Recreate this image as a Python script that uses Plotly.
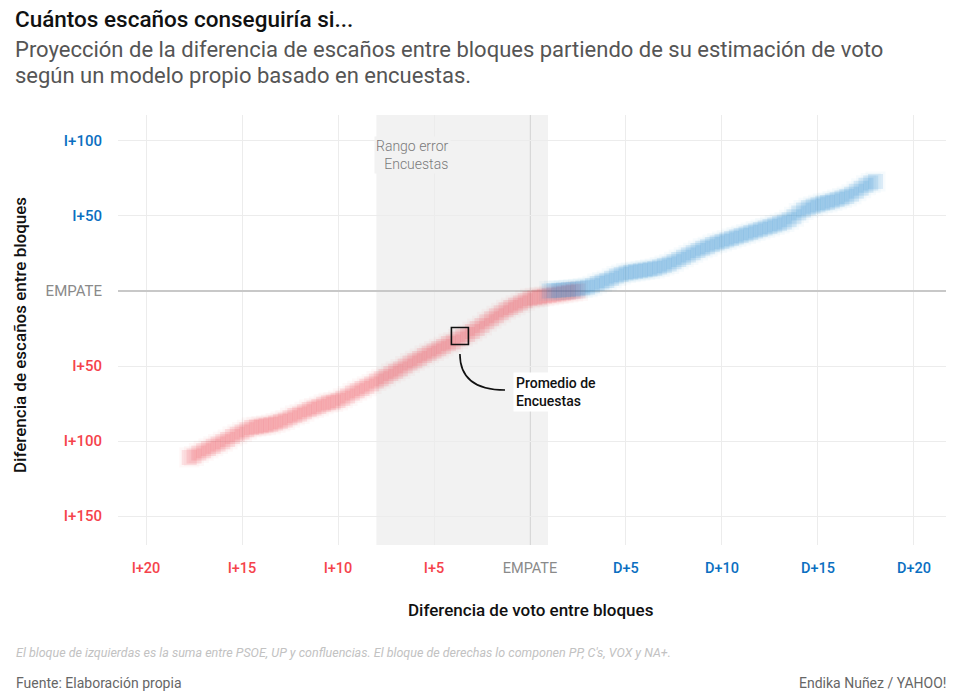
import plotly.graph_objects as go

# ---------------- data ----------------
x_ticks = [-20, -15, -10, -5, 0, 5, 10, 15, 20]
x_ticklabels = ["I+20", "I+15", "I+10", "I+5", "EMPATE", "D+5", "D+10", "D+15", "D+20"]
y_ticks = [100, 50, 0, -50, -100, -150]
y_ticklabels = ["I+100", "I+50", "EMPATE", "I+50", "I+100", "I+150"]

# Left bloc (red) projection: vote difference vs seat difference
izq_x = [-17.75, -17.5, -17.25, -17.0, -16.75, -16.5, -16.25, -16.0, -15.75, -15.5,
         -15.25, -15.0, -14.75, -14.5, -14.25, -14.0, -13.75, -13.5, -13.25, -13.0,
         -12.75, -12.5, -12.25, -12.0, -11.75, -11.5, -11.25, -11.0, -10.75, -10.5,
         -10.25, -10.0, -9.75, -9.5, -9.25, -9.0, -8.75, -8.5, -8.25, -8.0,
         -7.75, -7.5, -7.25, -7.0, -6.75, -6.5, -6.25, -6.0, -5.75, -5.5,
         -5.25, -5.0, -4.75, -4.5, -4.25, -4.0, -3.75, -3.5, -3.25, -3.0,
         -2.75, -2.5, -2.25, -2.0, -1.75, -1.5, -1.25, -1.0, -0.75, -0.5,
         -0.25, 0.0, 0.25, 0.5, 0.75, 1.0, 1.25, 1.5, 1.75, 2.0,
         2.25, 2.5]
izq_y = [-111, -110, -108, -106.5, -105, -103.5, -102, -100.5, -99, -97,
         -95.5, -94, -92.5, -91, -90.5, -90, -89.5, -89, -88, -87,
         -86, -84.5, -83, -82, -80.5, -79, -78, -77, -75.5, -74.5,
         -74, -73, -71.5, -70, -68, -66.5, -65, -63.5, -62, -60,
         -58.5, -57, -55, -53.5, -52, -50, -48, -46.5, -45, -43,
         -41.5, -40, -38.5, -37, -35, -34, -32, -30.5, -29, -27,
         -25, -23, -20.5, -18.5, -16.5, -14.5, -12.5, -11, -9.5, -8,
         -6.5, -5, -4.5, -4, -3.5, -3, -2.5, -2, -1.5, -1,
         -0.5, 0]

# Right bloc (blue) projection
der_x = [1.0, 1.25, 1.5, 1.75, 2.0, 2.25, 2.5, 2.75, 3.0, 3.25,
         3.5, 3.75, 4.0, 4.25, 4.5, 4.75, 5.0, 5.25, 5.5, 5.75,
         6.0, 6.25, 6.5, 6.75, 7.0, 7.25, 7.5, 7.75, 8.0, 8.25,
         8.5, 8.75, 9.0, 9.25, 9.5, 9.75, 10.0, 10.25, 10.5, 10.75,
         11.0, 11.25, 11.5, 11.75, 12.0, 12.25, 12.5, 12.75, 13.0, 13.25,
         13.5, 13.75, 14.0, 14.25, 14.5, 14.75, 15.0, 15.25, 15.5, 15.75,
         16.0, 16.25, 16.5, 16.75, 17.0, 17.25, 17.5, 17.75, 18.0]
der_y = [0, 0.3, 0.5, 0.7, 1, 1.2, 1.5, 2, 2.5, 3.5,
         5, 6, 7, 8.5, 10, 11, 12, 12.5, 13, 13.5,
         14, 14.5, 15, 16, 17, 18, 19.5, 21, 22.5, 24,
         25.5, 27, 28.5, 29.5, 31, 32, 33, 34, 35, 36,
         37, 38, 39, 40, 41, 42, 43, 44, 45, 46,
         47.5, 49.5, 52, 54, 55.5, 56.5, 57.5, 58.5, 59, 60,
         61, 62, 63, 64.5, 66.5, 68.5, 70.5, 72, 73]

# Poll error range and poll average
rango_error = [-8.0, 0.94]
promedio_x = [-3.65]
promedio_y = [-30]

# ---------------- styling ----------------
FONT = "Roboto"
RED = "#f5434b"
BLUE = "#0b6fc1"
GREY = "#8a8a8a"

X_RANGE = [-21.46, 21.67]
Y_RANGE = [-169.3, 117.3]
ML, MR, MT, MB = 118, 14, 115, 152
W, H = 960, 697
PW, PH = W - ML - MR, H - MT - MB


def px(xp):
    return (xp - ML) / PW


def py(yp):
    return (H - MB - yp) / PH


def tick_color(lbl):
    if lbl.startswith("I"):
        return RED
    if lbl.startswith("D"):
        return BLUE
    return GREY


def tick_html(lbl, col):
    weight = 400 if lbl == "EMPATE" else 500
    return f"<span style='color:{col};font-weight:{weight}'>{lbl}</span>"


x_text = [tick_html(t, tick_color(t)) for t in x_ticklabels]
y_cols = [BLUE, BLUE, GREY, RED, RED, RED]
y_text = [tick_html(t, c) for t, c in zip(y_ticklabels, y_cols)]

fig = go.Figure()

red_halo = "rgba(240,60,70,0.035)"
red_core = "rgba(240,60,70,0.12)"
blue_halo = "rgba(30,130,210,0.035)"
blue_core = "rgba(30,130,210,0.13)"

fig.add_trace(go.Scatter(x=izq_x, y=izq_y, mode="markers", hoverinfo="skip",
                         marker=dict(symbol="square", size=20, color=red_halo, line=dict(width=0))))
fig.add_trace(go.Scatter(x=izq_x, y=izq_y, mode="markers", name="Izquierda",
                         marker=dict(symbol="square", size=15, color=red_core, line=dict(width=0))))
fig.add_trace(go.Scatter(x=der_x, y=der_y, mode="markers", hoverinfo="skip",
                         marker=dict(symbol="square", size=20, color=blue_halo, line=dict(width=0))))
fig.add_trace(go.Scatter(x=der_x, y=der_y, mode="markers", name="Derecha",
                         marker=dict(symbol="square", size=15, color=blue_core, line=dict(width=0))))

# poll average marker
fig.add_trace(go.Scatter(x=promedio_x, y=promedio_y, mode="markers", name="Promedio",
                         marker=dict(symbol="square-open", size=17, color="#111",
                                     line=dict(width=1.6, color="#111"))))

# shaded poll error range
fig.add_shape(type="rect", xref="x", yref="paper", x0=rango_error[0], x1=rango_error[1],
              y0=0, y1=1, fillcolor="#f2f2f2", line=dict(width=0), layer="below")
# vertical EMPATE line
fig.add_shape(type="line", xref="x", yref="paper", x0=0, x1=0, y0=0, y1=1,
              line=dict(color="#c4c4c4", width=1.2), layer="below")

# connector curve from poll marker to label
sx, sy = promedio_x[0], promedio_y[0] - 12
ex, ey = promedio_x[0] + 2.35, promedio_y[0] - 36
path = f"M {sx},{sy} C {sx},{sy - 16} {sx + 0.8},{ey} {ex},{ey}"
fig.add_shape(type="path", xref="x", yref="y", path=path,
              line=dict(color="#111", width=1.6))

annotations = [
    dict(text="Promedio de<br>Encuestas", x=promedio_x[0] + 2.76, y=promedio_y[0] - 37,
         xref="x", yref="y", xanchor="left", yanchor="middle", align="left", showarrow=False,
         bgcolor="white", borderpad=2,
         font=dict(family=FONT, size=14, color="#111", weight=500)),
    dict(text="Rango error<br>Encuestas", x=-4.1, y=90.5, xref="x", yref="y",
         xanchor="right", yanchor="middle", align="right", showarrow=False,
         bgcolor="#f2f2f2", font=dict(family=FONT, size=14, color="#7a7a7a", weight=300)),
    # titles
    dict(text="Cuántos escaños conseguiría si...", x=px(13), y=py(19), xref="paper", yref="paper",
         xanchor="left", yanchor="middle", showarrow=False,
         font=dict(family=FONT, size=22.5, color="#111", weight=500)),
    dict(text="Proyección de la diferencia de escaños entre bloques partiendo de su estimación de voto",
         x=px(13), y=py(50), xref="paper", yref="paper", xanchor="left", yanchor="middle",
         showarrow=False, font=dict(family=FONT, size=22, color="#555")),
    dict(text="según un modelo propio basado en encuestas.",
         x=px(13), y=py(75), xref="paper", yref="paper", xanchor="left", yanchor="middle",
         showarrow=False, font=dict(family=FONT, size=22, color="#555")),
    # axis titles
    dict(text="Diferencia de voto entre bloques", x=px(531), y=py(610), xref="paper", yref="paper",
         xanchor="center", yanchor="middle", showarrow=False,
         font=dict(family=FONT, size=17, color="#111", weight=500)),
    dict(text="Diferencia de escaños entre bloques", x=px(20), y=py(335), xref="paper", yref="paper",
         xanchor="center", yanchor="middle", showarrow=False, textangle=-90,
         font=dict(family=FONT, size=17, color="#111", weight=500)),
    # footer
    dict(text="<i>El bloque de izquierdas es la suma entre PSOE, UP y confluencias. "
              "El bloque de derechas lo componen PP, C's, VOX y NA+.</i>",
         x=px(14), y=py(652), xref="paper", yref="paper", xanchor="left", yanchor="middle",
         showarrow=False, font=dict(family=FONT, size=12.5, color="#c2c2c2")),
    dict(text="Fuente: Elaboración propia", x=px(14), y=py(683), xref="paper", yref="paper",
         xanchor="left", yanchor="middle", showarrow=False,
         font=dict(family=FONT, size=14, color="#666")),
    dict(text="Endika Nuñez / YAHOO!", x=px(948), y=py(683), xref="paper", yref="paper",
         xanchor="right", yanchor="middle", showarrow=False,
         font=dict(family=FONT, size=14, color="#666")),
]

fig.update_layout(
    width=W, height=H,
    margin=dict(l=ML, r=MR, t=MT, b=MB),
    paper_bgcolor="white", plot_bgcolor="white",
    showlegend=False,
    annotations=annotations,
    font=dict(family=FONT),
    xaxis=dict(range=X_RANGE, tickvals=x_ticks, ticktext=x_text, showgrid=True,
               gridcolor="#ececec", gridwidth=1, zeroline=False, showline=False,
               ticks="outside", ticklen=10, tickcolor="rgba(0,0,0,0)",
               tickfont=dict(family=FONT, size=14.5), fixedrange=True),
    yaxis=dict(range=Y_RANGE, tickvals=y_ticks, ticktext=y_text, showgrid=True,
               gridcolor="#ececec", gridwidth=1, zeroline=True, zerolinecolor="#c8c8c8",
               zerolinewidth=1.5, showline=False,
               ticks="outside", ticklen=12, tickcolor="rgba(0,0,0,0)",
               tickfont=dict(family=FONT, size=15), fixedrange=True),
)

fig.write_html("out.html", config={"displayModeBar": False},
               post_script="document.body.style.margin='0px';")
